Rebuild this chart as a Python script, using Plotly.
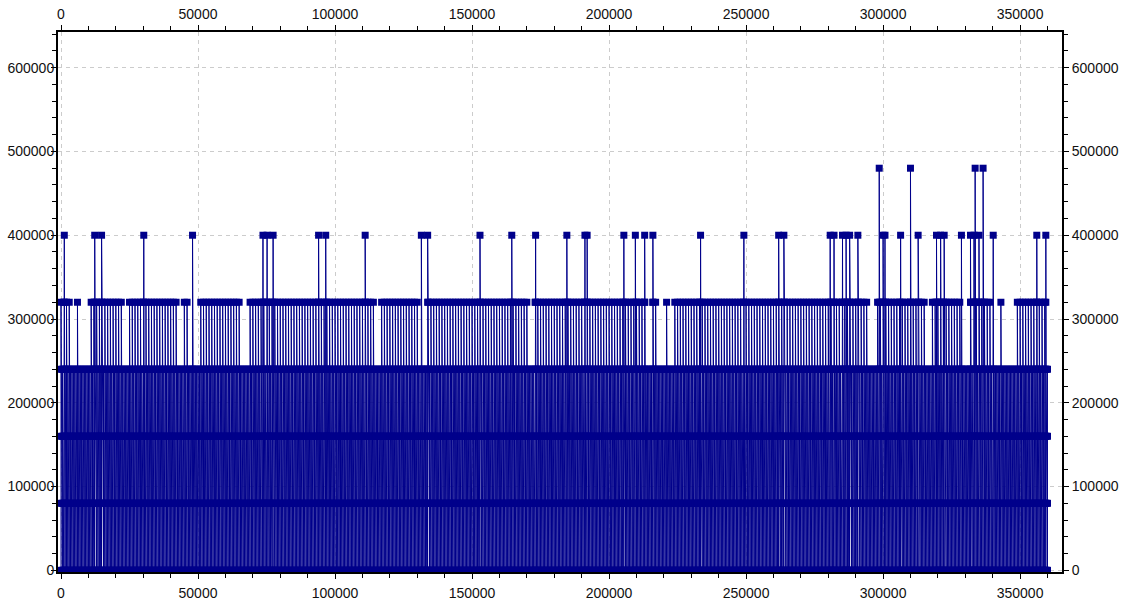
import plotly.graph_objects as go

# ---- data ----
x_step = 1000          # spacing of main samples
x_end = 360000
base_levels = [0, 80000, 160000, 240000]
level_320k = 320000
level_400k = 400000
level_480k = 480000

# x ranges (inclusive) where samples reach 320000
seg_320k = [(0, 3000), (6000, 6000), (11000, 22000), (25000, 42000), (45000, 46000),
            (51000, 65000), (69000, 114000), (117000, 130000), (134000, 170000),
            (173000, 213000), (216000, 217000), (221000, 221000), (224000, 294000),
            (298000, 315000), (318000, 328000), (332000, 339000), (343000, 343000),
            (349000, 359500)]

# x positions of spikes to 400000
peaks_400k = [1200, 12300, 14800, 30200, 48000, 73700, 75200, 77400,
              94000, 96600, 111000, 131500, 133800, 152900, 164500, 173200,
              184600, 191200, 192000, 205400, 209600, 213000, 216000, 233400,
              249200, 261900, 263800, 280700, 282100, 285200, 286500, 287800,
              290800, 300000, 300700, 306400, 312800, 319500, 321000, 322300,
              328600, 331900, 333200, 335000, 340200, 356100, 359400]

# x positions of spikes to 480000
peaks_480k = [298600, 310000, 333600, 336500]

x_ticks = [0, 50000, 100000, 150000, 200000, 250000, 300000, 350000]
y_ticks = [0, 100000, 200000, 300000, 400000, 500000, 600000]


def in_320(x):
    return any(a - 300 <= x <= b + 300 for a, b in seg_320k)


events = []
for i in range(0, 2 * (x_end // x_step) + 1):
    x = i * x_step / 2
    top = []
    if i % 2 == 0 and in_320(x):
        top = [level_320k]
    events.append((x, base_levels + top))
for x in peaks_400k:
    events.append((x, base_levels + ([level_320k] if in_320(x) else []) + [level_400k]))
for x in peaks_480k:
    events.append((x, base_levels + ([level_320k] if in_320(x) else []) + [level_480k]))
events.sort(key=lambda e: e[0])

xs, ys = [], []
for x, lv in events:
    for v in lv:
        xs.append(x)
        ys.append(v)

navy = "#00008B"
xr = [-1100, 365300]
yr = [-2000, 642600]

fig = go.Figure()
fig.add_trace(go.Scatter(
    x=xs, y=ys, mode="lines+markers",
    line=dict(color=navy, width=1),
    marker=dict(symbol="square", size=7, color=navy, line=dict(width=0)),
    hoverinfo="skip", showlegend=False,
))
# invisible trace so the mirrored top/right axes are drawn
fig.add_trace(go.Scatter(
    x=[xr[0]], y=[yr[0]], xaxis="x2", yaxis="y2", mode="markers",
    marker=dict(opacity=0), hoverinfo="skip", showlegend=False,
))

font = dict(family="Arial, Liberation Sans, sans-serif", size=14, color="#111111")

common_x = dict(range=xr, tickvals=x_ticks, ticktext=[str(v) for v in x_ticks],
                showline=True, linecolor="black", linewidth=2,
                ticks="outside", ticklen=5, tickcolor="black", tickwidth=1,
                minor=dict(dtick=10000, tick0=0, ticks="outside", ticklen=4,
                           tickcolor="black", showgrid=False),
                zeroline=False, tickfont=font, automargin=False)
common_y = dict(range=yr, tickvals=y_ticks, ticktext=[str(v) for v in y_ticks],
                showline=True, linecolor="black", linewidth=2,
                ticks="outside", ticklen=5, tickcolor="black", tickwidth=1,
                minor=dict(dtick=20000, tick0=0, ticks="outside", ticklen=4,
                           tickcolor="black", showgrid=False),
                zeroline=False, tickfont=font, automargin=False)

fig.update_layout(
    width=1127, height=602,
    margin=dict(l=58, r=65, t=32, b=30),
    paper_bgcolor="white", plot_bgcolor="white",
    xaxis=dict(**common_x, side="bottom", showgrid=True, gridcolor="#cccccc",
               griddash="4px,4px", gridwidth=1, ticklabelstandoff=2),
    xaxis2=dict(**common_x, side="top", overlaying="x", showgrid=False),
    yaxis=dict(**common_y, side="left", showgrid=True, gridcolor="#cccccc",
               griddash="4px,4px", gridwidth=1, ticklabelstandoff=-6),
    yaxis2=dict(**common_y, side="right", overlaying="y", showgrid=False),
)

fig.write_html("out.html", config={"displayModeBar": False},
               post_script="document.body.style.margin='0';document.body.style.overflow='hidden';")
